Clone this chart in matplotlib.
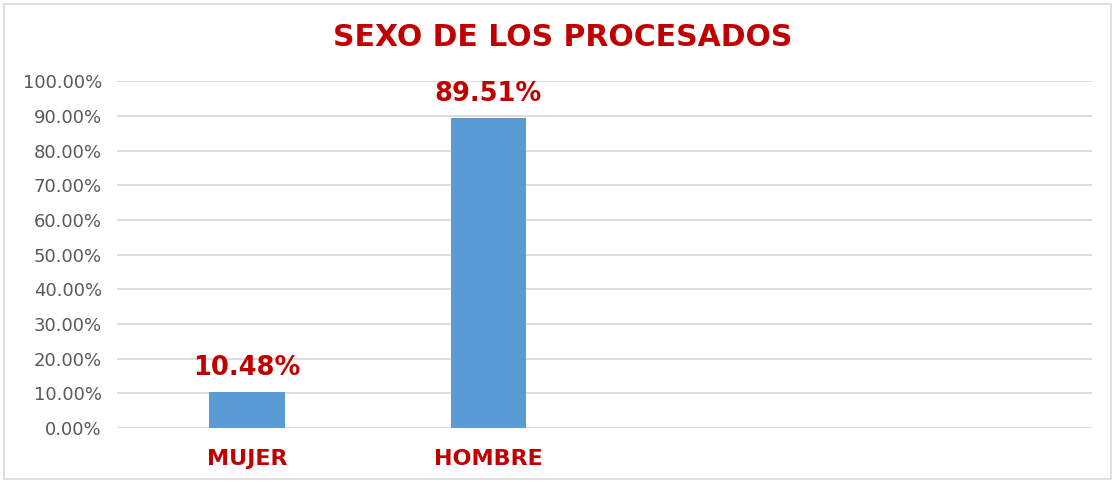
import matplotlib.pyplot as plt
from matplotlib.ticker import FuncFormatter
from matplotlib.patches import Rectangle

# data
categories = ["MUJER", "HOMBRE", "", ""]
values = [10.48, 89.51, None, None]
title = "SEXO DE LOS PROCESADOS"

RED = "#C00000"
BLUE = "#5B9BD5"
GRID = "#D9D9D9"

plt.rcParams['font.family'] = ['DejaVu Sans']

fig = plt.figure(figsize=(11.15, 4.83), dpi=100)
ax = fig.add_axes([0.105, 0.114, 0.874, 0.718])

xs = list(range(len(categories)))
bx = [x for x, v in zip(xs, values) if v is not None]
bv = [v for v in values if v is not None]
ax.bar(bx, bv, width=0.314, color=BLUE, zorder=3)

for x, v in zip(bx, bv):
    ax.text(x, v + 3.0, f"{v:.2f}%", ha='center', va='bottom',
            color=RED, fontsize=18.5, fontweight='bold')

ax.set_ylim(0, 100)
ax.set_xlim(-0.537, 3.496)
ax.set_yticks(range(0, 101, 10))
ax.yaxis.set_major_formatter(FuncFormatter(lambda v, p: f"{v:.2f}%"))
ax.set_xticks(bx)
ax.set_xticklabels([c for c, v in zip(categories, values) if v is not None],
                   color=RED, fontsize=16, fontweight='bold')
ax.tick_params(axis='x', length=0, pad=15)
ax.tick_params(axis='y', length=0, pad=11, labelsize=13, labelcolor='#595959')
ax.grid(axis='y', color=GRID, linewidth=1.3, zorder=0)
for s in ax.spines.values():
    s.set_visible(False)

fig.text(0.505, 0.922, title, ha='center', va='center',
         color=RED, fontsize=21.5, fontweight='bold')

fig.patches.append(Rectangle((0.004, 0.008), 0.992, 0.984, transform=fig.transFigure,
                             fill=False, edgecolor='#D9D9D9', linewidth=1.2))

fig.savefig("out.png", dpi=100)
